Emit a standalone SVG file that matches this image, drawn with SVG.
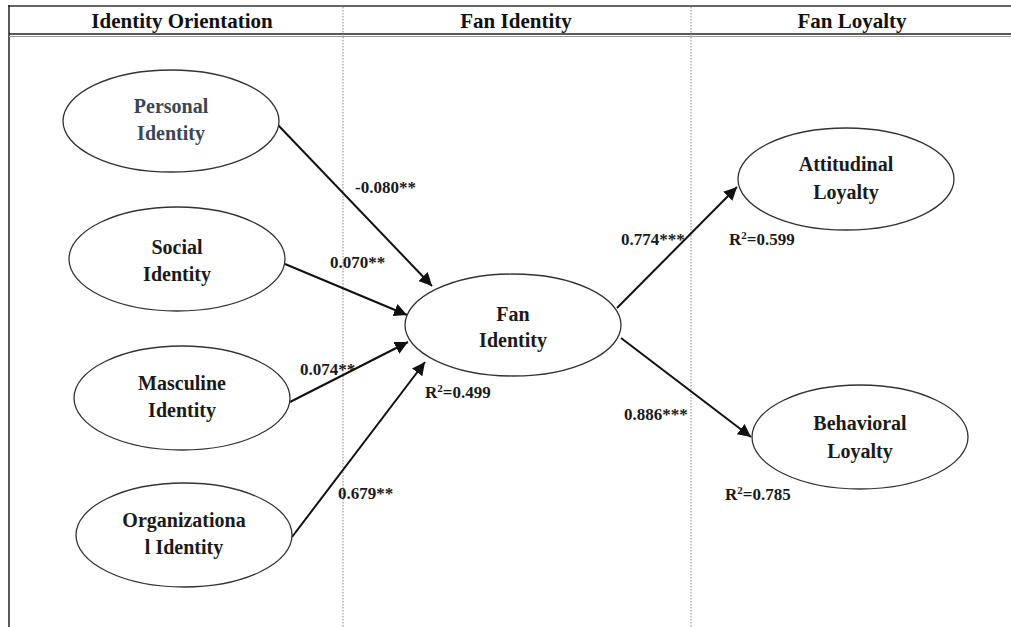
<svg xmlns="http://www.w3.org/2000/svg" width="1011" height="627" viewBox="0 0 1011 627">
<defs>
<style>
.hd{font-family:"Liberation Serif","Times New Roman",serif;font-weight:bold;font-size:21px;fill:#111;text-anchor:middle}
.nt{font-family:"Liberation Serif","Times New Roman",serif;font-weight:bold;font-size:20px;fill:#1a1a1a;text-anchor:middle}
.lb{font-family:"Liberation Serif","Times New Roman",serif;font-weight:bold;font-size:17px;fill:#1a1a1a}
.el{fill:#fff;stroke:#333;stroke-width:1.3}
.cn{stroke:#111;stroke-width:2;fill:none;marker-end:url(#ah)}
.dl{stroke:#888;stroke-width:1;stroke-dasharray:1.5 1.5}
</style>
<marker id="ah" viewBox="0 0 10 10" refX="10" refY="5" markerWidth="6.5" markerHeight="6.5" orient="auto" markerUnits="strokeWidth">
<path d="M0,0 L10,5 L0,10 z" fill="#111"/>
</marker>
</defs>
<rect width="1011" height="627" fill="#fff"/>
<g id="frame">
<line x1="8" y1="6" x2="1011" y2="6" stroke="#666" stroke-width="2"/>
<line x1="9" y1="5" x2="9" y2="627" stroke="#222" stroke-width="1.5"/>
<line x1="9" y1="34" x2="1011" y2="34" stroke="#222" stroke-width="1.5"/>
<line x1="9" y1="36.5" x2="1011" y2="36.5" stroke="#999" stroke-width="1"/>
<line class="dl" x1="343" y1="7" x2="343" y2="627"/>
<line class="dl" x1="691" y1="7" x2="691" y2="627"/>
<text class="hd" x="182" y="28">Identity Orientation</text>
<text class="hd" x="516" y="28">Fan Identity</text>
<text class="hd" x="852" y="28">Fan Loyalty</text>
</g>
<g id="connectors">
<line class="cn" x1="278" y1="125" x2="432" y2="286"/>
<line class="cn" x1="285" y1="264" x2="407" y2="315"/>
<line class="cn" x1="290" y1="402" x2="408" y2="342"/>
<line class="cn" x1="292" y1="537" x2="425" y2="362"/>
<line class="cn" x1="617" y1="308" x2="737" y2="187"/>
<line class="cn" x1="621" y1="338" x2="751" y2="437"/>
</g>
<g id="personal"><ellipse class="el" cx="171" cy="121" rx="108" ry="51"/><text class="nt" x="171" y="113" fill="#3a4656" style="fill:#3a4656">Personal</text><text class="nt" x="171" y="140" style="fill:#3a4656">Identity</text></g>
<g id="social"><ellipse class="el" cx="177" cy="259" rx="108" ry="52"/><text class="nt" x="177" y="254">Social</text><text class="nt" x="177" y="281">Identity</text></g>
<g id="masculine"><ellipse class="el" cx="182" cy="398" rx="108" ry="52"/><text class="nt" x="182" y="390">Masculine</text><text class="nt" x="182" y="417">Identity</text></g>
<g id="organizational"><ellipse class="el" cx="184" cy="535" rx="108" ry="52"/><text class="nt" x="184" y="527">Organizationa</text><text class="nt" x="184" y="554">l Identity</text></g>
<g id="fan"><ellipse class="el" cx="513" cy="325" rx="108" ry="51"/><text class="nt" x="513" y="321">Fan</text><text class="nt" x="513" y="347">Identity</text></g>
<g id="attitudinal"><ellipse class="el" cx="846" cy="179" rx="108" ry="51"/><text class="nt" x="846" y="171">Attitudinal</text><text class="nt" x="846" y="199">Loyalty</text></g>
<g id="behavioral"><ellipse class="el" cx="860" cy="437" rx="108" ry="52"/><text class="nt" x="860" y="430">Behavioral</text><text class="nt" x="860" y="458">Loyalty</text></g>
<g id="labels">
<text class="lb" x="355" y="193">-0.080**</text>
<text class="lb" x="330" y="268">0.070**</text>
<text class="lb" x="300" y="375">0.074**</text>
<text class="lb" x="338" y="499">0.679**</text>
<text class="lb" x="425" y="398">R<tspan font-size="11" dy="-6">2</tspan><tspan dy="6">=0.499</tspan></text>
<text class="lb" x="621" y="245">0.774***</text>
<text class="lb" x="729" y="245">R<tspan font-size="11" dy="-6">2</tspan><tspan dy="6">=0.599</tspan></text>
<text class="lb" x="624" y="420">0.886***</text>
<text class="lb" x="725" y="500">R<tspan font-size="11" dy="-6">2</tspan><tspan dy="6">=0.785</tspan></text>
</g>
</svg>
